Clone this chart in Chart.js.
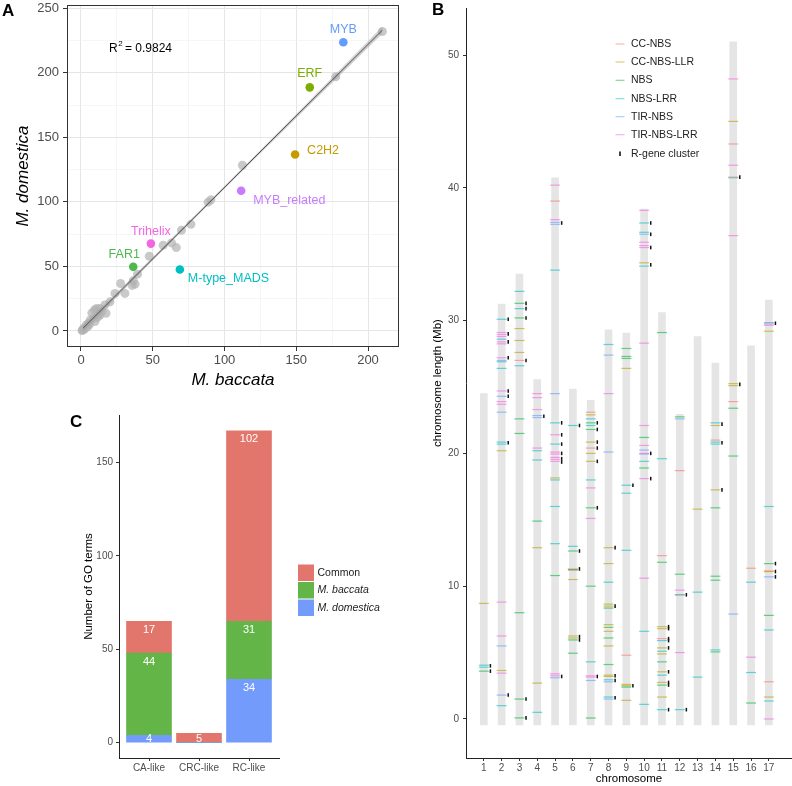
<!DOCTYPE html>
<html>
<head>
<meta charset="utf-8">
<script src="https://cdn.jsdelivr.net/npm/chart.js@4.4.0/dist/chart.umd.min.js"></script>
<style>
  body { margin: 0; background: #fff; width: 792px; height: 786px; position: relative; overflow: hidden; }
  canvas { position: absolute; }
  .tag { position: absolute; font: bold 17px "Liberation Sans", Arial, sans-serif; line-height: 17px; color: #000; }
</style>
</head>
<body>
<canvas id="chartA" width="400" height="392" style="left:0;top:0"></canvas>
<canvas id="chartB" width="392" height="786" style="left:400px;top:0"></canvas>
<canvas id="chartC" width="400" height="394" style="left:0;top:392px"></canvas>
<div class="tag" style="left:2px;top:2px">A</div>
<div class="tag" style="left:432px;top:1px">B</div>
<div class="tag" style="left:70px;top:413px">C</div>

<script>
// ---------- Panel A: TF family sizes ----------
const grayX = [210, 177.5, 112.5, 88.6, 90.5, 76.6, 70, 66.4, 63.1, 57.3, 47.6, 39.4, 36.4, 35.7, 37.7, 27.6, 30.6, 23.7, 20.2, 17.4, 16.7, 13.2, 10.9, 9.3, 12.1, 8.8, 6.5, 5.3, 3.7, 1.9, 0.7, 7.6, 14.6, 4.6, 9.7, 13.2, 2.5, 1.2, 11.5, 5.8];
const grayY = [232, 196.9, 128.4, 99.8, 101.6, 82.6, 78, 64.6, 68.2, 66.4, 57.9, 44, 38.9, 35.3, 36.3, 36.8, 29.1, 29.1, 22.6, 13.7, 20.2, 17.5, 17.5, 16.2, 12.4, 9.9, 8.6, 6, 4.7, 2.1, 0.3, 14, 15.3, 3.3, 7.3, 12.4, 1.5, 0.8, 10.5, 4.9];

const tfNames = ["MYB", "ERF", "C2H2", "MYB_related", "Trihelix", "FAR1", "M-type_MADS"];
const tfX = [182.8, 159.4, 149.2, 111.6, 48.7, 36.4, 68.9];
const tfY = [223.7, 188.7, 136.7, 108.6, 67.7, 49.7, 47.6];
const tfColors = ["#619CFF", "#7CAE00", "#C49A00", "#C77CFF", "#F564E3", "#4DB84D", "#00BFC4"];
// label placement: dx, dy (px), alignment
const tfLabelPos = [[0, -13, "center"], [0, -13.5, "center"], [12, -4, "left"], [12, 10, "left"], [0, -12.5, "center"], [-9, -12.5, "center"], [8, 9, "left"]];

const fitX = [1.5, 210];
const fitY = [2.2, 233];
const bandX = [1.5, 50, 105, 160, 210];
const bandLo = [-0.4, 54.6, 115.5, 175.8, 230.2];
const bandHi = [4.4, 57.2, 117.9, 179.4, 235.8];
const rSquared = "0.9824";

const aTicks = [0, 25, 50, 75, 100, 125, 150, 175, 200, 225, 250];

// ---------- Panel B: R-gene positions ----------
const chrIds = [1, 2, 3, 4, 5, 6, 7, 8, 9, 10, 11, 12, 13, 14, 15, 16, 17];
const chrLengths = [24.5, 31.25, 33.5, 25.55, 40.75, 24.85, 24.0, 29.3, 29.05, 38.4, 30.6, 22.95, 28.8, 26.8, 51.0, 28.1, 31.55];
const chrStart = -0.45;

const typeNames = ["CC-NBS", "CC-NBS-LLR", "NBS", "NBS-LRR", "TIR-NBS", "TIR-NBS-LRR"];
const typeColors = ["#F8766D", "#B79F00", "#00BA38", "#00BFC4", "#619CFF", "#F564E3"];

// [chromosome, Mb]
const ccNbs = [[3, 27.0], [5, 39.0], [6, 11.3], [6, 11.2], [7, 23.1], [7, 20.4], [9, 4.8], [11, 12.3], [11, 6.05], [12, 18.7], [12, 9.35], [14, 21.0], [15, 43.3], [15, 23.9], [16, 11.35], [17, 11.15], [17, 2.8]];
const ccNbsLlr = [[1, 8.7], [2, 20.2], [2, 3.65], [3, 29.4], [3, 28.5], [3, 27.6], [4, 12.9], [4, 2.7], [5, 18.15], [6, 10.5], [6, 6.25], [6, 6.1], [7, 22.9], [7, 20.85], [7, 20.0], [7, 19.4],
  [8, 12.9], [8, 11.7], [8, 8.65], [8, 8.5], [8, 7.1], [8, 6.6], [8, 5.5], [8, 3.3], [8, 3.2], [9, 26.4], [9, 2.6], [9, 2.5], [9, 1.4], [10, 34.35], [11, 6.95], [11, 6.8], [11, 5.35], [11, 4.9], [11, 3.55], [11, 2.75], [11, 1.65],
  [13, 15.8], [14, 22.1], [14, 17.25], [15, 45.0], [15, 40.8], [15, 25.25], [15, 25.1], [17, 29.2], [17, 11.1], [17, 1.65]];
const nbs = [[1, 3.6], [3, 31.3], [3, 30.2], [3, 22.6], [3, 21.5], [3, 8.0], [3, 1.5], [3, 0.08], [4, 14.9], [5, 10.8], [6, 12.65], [6, 11.25], [6, 5.95], [6, 4.95], [7, 22.3], [7, 21.8], [7, 15.9], [7, 10.0], [7, 0.07],
  [8, 8.35], [8, 6.9], [8, 6.1], [8, 4.1], [9, 27.9], [9, 27.3], [9, 27.15], [9, 2.4], [10, 21.2], [10, 18.9], [11, 29.1], [11, 11.8], [11, 4.3], [11, 2.55], [12, 22.75], [12, 10.9], [14, 15.9], [14, 10.75], [14, 10.45], [14, 5.05],
  [15, 23.4], [15, 19.8], [16, 1.2], [17, 11.7], [17, 7.8]];
const nbsLrr = [[1, 4.05], [1, 3.9], [2, 30.1], [2, 28.6], [2, 26.9], [2, 26.4], [2, 20.85], [2, 20.7], [2, 1.0], [3, 32.2], [3, 30.9], [3, 26.6], [4, 20.2], [4, 19.5], [4, 0.5], [5, 33.8], [5, 22.3], [5, 20.7], [5, 18.0], [5, 16.0], [5, 13.2],
  [6, 22.1], [6, 13.0], [7, 22.6], [7, 22.1], [7, 18.0], [7, 4.3], [8, 28.2], [8, 10.3], [8, 2.95], [8, 1.65], [9, 17.6], [9, 17.0], [9, 12.7], [10, 37.35], [10, 36.65], [10, 34.1], [10, 19.4], [10, 6.6], [10, 1.1],
  [11, 19.6], [11, 5.9], [11, 5.1], [11, 3.3], [11, 0.7], [12, 9.35], [12, 0.7], [13, 9.55], [13, 3.15], [14, 22.3], [14, 20.85], [14, 20.7], [14, 5.2], [16, 10.3], [16, 3.5], [17, 29.85], [17, 16.0], [17, 6.7], [17, 1.35]];
const tirNbs = [[2, 27.0], [2, 24.3], [2, 23.1], [2, 5.5], [2, 1.8], [4, 22.85], [4, 22.7], [5, 37.4], [5, 37.25], [5, 24.5], [5, 3.1], [7, 2.9], [8, 27.4], [8, 20.1], [8, 2.8], [8, 1.5], [10, 36.5], [10, 20.25], [10, 19.95],
  [12, 22.6], [15, 40.75], [15, 7.9], [17, 10.7]];
const tirNbsLrr = [[2, 29.1], [2, 28.95], [2, 28.8], [2, 28.4], [2, 28.25], [2, 27.2], [2, 24.7], [2, 23.9], [2, 23.7], [2, 8.8], [2, 6.25], [2, 3.45], [4, 24.5], [4, 24.2], [4, 23.3], [4, 20.4],
  [5, 40.2], [5, 37.6], [5, 21.4], [5, 20.1], [5, 19.95], [5, 19.7], [5, 19.55], [5, 19.4], [5, 3.4], [5, 3.25], [7, 17.4], [7, 15.1], [7, 3.25], [7, 3.15], [8, 24.5],
  [10, 38.3], [10, 35.9], [10, 35.65], [10, 35.5], [10, 28.3], [10, 22.1], [10, 20.6], [10, 20.0], [10, 18.1], [10, 10.6], [12, 9.7], [12, 5.0], [15, 48.2], [15, 41.7], [15, 36.4], [16, 4.65], [17, 29.75], [17, 29.65], [17, 0.0]];
const typeMarks = [ccNbs, ccNbsLlr, nbs, nbsLrr, tirNbs, tirNbsLrr];

const clusters = [[1, 4.0], [1, 3.6], [2, 30.1], [2, 29.0], [2, 28.4], [2, 27.2], [2, 24.7], [2, 24.3], [2, 20.8], [2, 1.8], [3, 31.3], [3, 30.9], [3, 30.2], [3, 27.0], [3, 1.5], [3, 0.08], [4, 22.8],
  [5, 37.35], [5, 22.3], [5, 21.4], [5, 20.7], [5, 20.0], [5, 19.6], [5, 19.35], [5, 3.2], [6, 22.1], [6, 12.65], [6, 11.3], [6, 6.2], [6, 5.95], [7, 22.3], [7, 21.8], [7, 20.85], [7, 20.4], [7, 19.4], [7, 15.9], [7, 3.2],
  [8, 12.9], [8, 8.5], [8, 3.25], [8, 2.9], [8, 1.6], [9, 17.6], [9, 2.5], [10, 37.35], [10, 36.5], [10, 35.5], [10, 34.2], [10, 20.0], [10, 18.1], [11, 6.95], [11, 6.8], [11, 6.05], [11, 5.9], [11, 5.35], [11, 3.55], [11, 2.75], [11, 2.55], [11, 0.7],
  [12, 9.35], [12, 0.7], [14, 22.2], [14, 20.8], [14, 17.25], [15, 40.8], [15, 25.2], [17, 29.8], [17, 11.7], [17, 11.1], [17, 10.7]];

const bTicksY = [0, 10, 20, 30, 40, 50];

// ---------- Panel C: GO terms ----------
const cCats = ["CA-like", "CRC-like", "RC-like"];
const cDomestica = [4, 0, 34];
const cBaccata = [44, 0, 31];
const cCommon = [17, 5, 102];
const cSeries = ["Common", "M. baccata", "M. domestica"];
const cColors = ["#E3766C", "#64B548", "#729BFC"];
const cTicksY = [0, 50, 100, 150];

const FONT = '"Liberation Sans", Arial, sans-serif';

function hexA(hex, a) {
  const n = parseInt(hex.slice(1), 16);
  return `rgba(${(n >> 16) & 255},${(n >> 8) & 255},${n & 255},${a})`;
}

// keep tick label overhang from shrinking the plot area
function noPad(s) {
  s.paddingTop = 0; s.paddingBottom = 0; s.paddingLeft = 0; s.paddingRight = 0;
}

// ---------- Chart A ----------
const aDecor = {
  id: "aDecor",
  afterDraw(chart) {
    const { ctx, chartArea: ca, scales: { x, y } } = chart;
    ctx.save();
    ctx.strokeStyle = "#333";
    ctx.lineWidth = 1;
    ctx.strokeRect(ca.left + 0.5, ca.top + 0.5, ca.width - 1, ca.height - 1);

    ctx.font = `12.5px ${FONT}`;
    ctx.textBaseline = "middle";
    tfNames.forEach((n, i) => {
      const [dx, dy, align] = tfLabelPos[i];
      ctx.fillStyle = tfColors[i];
      ctx.textAlign = align;
      ctx.fillText(n, x.getPixelForValue(tfX[i]) + dx, y.getPixelForValue(tfY[i]) + dy);
    });

    // R^2 annotation
    const rx = x.getPixelForValue(19.5), ry = y.getPixelForValue(218.5);
    ctx.fillStyle = "#000";
    ctx.textAlign = "left";
    ctx.font = `12px ${FONT}`;
    ctx.fillText("R", rx, ry);
    const w = ctx.measureText("R").width;
    ctx.font = `8px ${FONT}`;
    ctx.fillText("2", rx + w + 0.5, ry - 5);
    ctx.font = `12px ${FONT}`;
    ctx.fillText(" = " + rSquared, rx + w + 4, ry);
    ctx.restore();
  }
};

const aGridColor = ctx => (ctx.tick && ctx.tick.value % 50 === 0 ? "#E6E6E6" : "#F0F0F0");
const aGridWidth = ctx => (ctx.tick && ctx.tick.value % 50 === 0 ? 1 : 0.6);
const aTickColor = ctx => (ctx.tick && ctx.tick.value % 50 === 0 ? "#333" : "rgba(0,0,0,0)");

new Chart(document.getElementById("chartA"), {
  type: "scatter",
  data: {
    datasets: [
      {
        data: tfX.map((v, i) => ({ x: v, y: tfY[i] })),
        pointBackgroundColor: tfColors,
        pointBorderWidth: 0,
        pointRadius: 4.3,
        order: 0
      },
      {
        type: "line",
        data: fitX.map((v, i) => ({ x: v, y: fitY[i] })),
        borderColor: "#4D4D4D",
        borderWidth: 1,
        pointRadius: 0,
        order: 1
      },
      {
        type: "line",
        data: bandX.map((v, i) => ({ x: v, y: bandHi[i] })),
        borderWidth: 0,
        pointRadius: 0,
        backgroundColor: "rgba(153,153,153,0.45)",
        fill: 3,
        order: 2
      },
      {
        type: "line",
        data: bandX.map((v, i) => ({ x: v, y: bandLo[i] })),
        borderWidth: 0,
        pointRadius: 0,
        order: 3
      },
      {
        data: grayX.map((v, i) => ({ x: v, y: grayY[i] })),
        pointBackgroundColor: "rgba(178,178,178,0.7)",
        pointBorderWidth: 0,
        pointRadius: 4.5,
        order: 4
      }
    ]
  },
  options: {
    responsive: false,
    animation: false,
    events: [],
    layout: { autoPadding: false, padding: { top: 5, right: 1, left: 13, bottom: 0 } },
    plugins: { legend: { display: false }, tooltip: { enabled: false } },
    scales: {
      x: {
        type: "linear",
        min: -9.75,
        max: 221.6,
        afterBuildTicks: s => { s.ticks = aTicks.filter(v => v <= 221.6).map(v => ({ value: v })); },
        afterFit: s => { s.height = 45; noPad(s); },
        ticks: { font: { family: FONT, size: 13 }, color: "#4D4D4D", padding: 2, callback: v => (v % 50 === 0 ? v : "") },
        grid: { color: aGridColor, lineWidth: aGridWidth, tickColor: aTickColor, tickLength: 4 },
        border: { display: false },
        title: { display: true, text: "M. baccata", color: "#000", font: { family: FONT, size: 17, style: "italic" }, padding: { top: 0, bottom: 2 } }
      },
      y: {
        type: "linear",
        min: -12.4,
        max: 252.5,
        afterBuildTicks: s => { s.ticks = aTicks.map(v => ({ value: v })); },
        afterFit: s => { s.width = 54; noPad(s); },
        ticks: { font: { family: FONT, size: 13 }, color: "#4D4D4D", padding: 4, callback: v => (v % 50 === 0 ? v : "") },
        grid: { color: aGridColor, lineWidth: aGridWidth, tickColor: aTickColor, tickLength: 4 },
        border: { display: false },
        title: { display: true, text: "M. domestica", color: "#000", font: { family: FONT, size: 17, style: "italic" }, padding: { top: 0, bottom: 0 } }
      }
    }
  },
  plugins: [aDecor]
});

// ---------- Chart B ----------
const bLegend = {
  id: "bLegend",
  afterDraw(chart) {
    const { ctx } = chart;
    const rows = [44, 62, 80.3, 98.7, 116.7, 134.7];
    ctx.save();
    ctx.font = `10.5px ${FONT}`;
    ctx.textBaseline = "middle";
    ctx.textAlign = "left";
    typeNames.forEach((n, i) => {
      ctx.strokeStyle = hexA(typeColors[i], 0.55);
      ctx.lineWidth = 1.1;
      ctx.beginPath();
      ctx.moveTo(215.5, rows[i]);
      ctx.lineTo(224.5, rows[i]);
      ctx.stroke();
      ctx.fillStyle = "#222";
      ctx.fillText(n, 231, rows[i]);
    });
    ctx.strokeStyle = "#111";
    ctx.lineWidth = 1.6;
    ctx.beginPath();
    ctx.moveTo(220, 151.5);
    ctx.lineTo(220, 156);
    ctx.stroke();
    ctx.fillStyle = "#222";
    ctx.fillText("R-gene cluster", 231, 153.7);
    ctx.restore();
  }
};

new Chart(document.getElementById("chartB"), {
  type: "bar",
  data: {
    datasets: [
      {
        type: "bar",
        data: chrIds.map((c, i) => ({ x: c, y: [chrStart, chrLengths[i]] })),
        backgroundColor: "#E5E5E5",
        borderWidth: 0,
        barThickness: 7,
        order: 10
      },
      ...typeMarks.map((set, i) => ({
        type: "scatter",
        data: set.map(([c, p]) => ({ x: c, y: p })),
        pointStyle: "line",
        pointRadius: 5,
        pointBorderWidth: 1.2,
        pointBorderColor: hexA(typeColors[i], 0.6),
        order: 7 - i
      })),
      {
        type: "scatter",
        data: clusters.map(([c, p]) => ({ x: c + 0.37, y: p })),
        pointStyle: "line",
        pointRotation: 90,
        pointRadius: 1.8,
        pointBorderWidth: 1.5,
        pointBorderColor: "#111",
        order: 0
      }
    ]
  },
  options: {
    responsive: false,
    animation: false,
    events: [],
    layout: { autoPadding: false, padding: { top: 8, right: 0, left: 31, bottom: 0 } },
    plugins: { legend: { display: false }, tooltip: { enabled: false } },
    scales: {
      x: {
        type: "linear",
        offset: false,
        min: 0,
        max: 18.3,
        afterBuildTicks: s => { s.ticks = chrIds.map(v => ({ value: v })); },
        afterFit: s => { s.height = 28; noPad(s); },
        ticks: { font: { family: FONT, size: 10 }, color: "#4D4D4D", padding: 1 },
        grid: { offset: false, drawOnChartArea: false, tickLength: 3, tickColor: "#333" },
        border: { color: "#222", width: 1 },
        title: { display: true, text: "chromosome", color: "#000", font: { family: FONT, size: 11.5 }, padding: { top: 0, bottom: 0 } }
      },
      y: {
        type: "linear",
        min: -2.94,
        max: 53.54,
        afterBuildTicks: s => { s.ticks = bTicksY.map(v => ({ value: v })); },
        afterFit: s => { s.width = 35; noPad(s); },
        ticks: { font: { family: FONT, size: 10 }, color: "#4D4D4D", padding: 4 },
        grid: { drawOnChartArea: false, tickLength: 3, tickColor: "#333" },
        border: { color: "#222", width: 1 },
        title: { display: true, text: "chromosome length (Mb)", color: "#000", font: { family: FONT, size: 11.5 }, padding: { top: 0, bottom: 0 } }
      }
    }
  },
  plugins: [bLegend]
});

// ---------- Chart C ----------
const cDecor = {
  id: "cDecor",
  afterDatasetsDraw(chart) {
    const { ctx, scales: { y } } = chart;
    const base = y.getPixelForValue(0);
    ctx.save();
    ctx.font = `11px ${FONT}`;
    ctx.fillStyle = "#fff";
    ctx.textAlign = "center";
    ctx.textBaseline = "middle";
    chart.data.datasets.forEach((ds, di) => {
      const meta = chart.getDatasetMeta(di);
      meta.data.forEach((el, j) => {
        const v = ds.data[j].y;
        if (!v) return;
        ctx.fillText(String(v), el.x, Math.min(el.y + 8.5, base - 4));
      });
    });
    ctx.restore();
  },
  afterDraw(chart) {
    const { ctx } = chart;
    const tops = [172.5, 190, 207.5];
    ctx.save();
    ctx.textBaseline = "middle";
    ctx.textAlign = "left";
    cSeries.forEach((name, k) => {
      ctx.fillStyle = cColors[k];
      ctx.fillRect(298, tops[k], 16, 16.5);
      ctx.fillStyle = "#222";
      ctx.font = (k === 0 ? "" : "italic ") + `10.5px ${FONT}`;
      ctx.fillText(name, 317.5, tops[k] + 8.5);
    });
    ctx.restore();
  }
};

new Chart(document.getElementById("chartC"), {
  type: "bar",
  data: {
    datasets: [
      { label: cSeries[2], data: cDomestica.map((v, i) => ({ x: i + 1, y: v })), backgroundColor: cColors[2] },
      { label: cSeries[1], data: cBaccata.map((v, i) => ({ x: i + 1, y: v })), backgroundColor: cColors[1] },
      { label: cSeries[0], data: cCommon.map((v, i) => ({ x: i + 1, y: v })), backgroundColor: cColors[0] }
    ].map(d => Object.assign(d, { barThickness: 45, borderWidth: 0 }))
  },
  options: {
    responsive: false,
    animation: false,
    events: [],
    layout: { autoPadding: false, padding: { top: 23, right: 121, left: 82, bottom: 0 } },
    plugins: { legend: { display: false }, tooltip: { enabled: false } },
    scales: {
      x: {
        type: "linear",
        stacked: true,
        offset: false,
        min: 0.4,
        max: 3.6,
        afterBuildTicks: s => { s.ticks = cCats.map((c, i) => ({ value: i + 1 })); },
        afterFit: s => { s.height = 28; noPad(s); },
        ticks: { font: { family: FONT, size: 10 }, color: "#4D4D4D", padding: 1, callback: v => cCats[v - 1] },
        grid: { offset: false, drawOnChartArea: false, tickLength: 3, tickColor: "#333" },
        border: { color: "#222", width: 1 }
      },
      y: {
        type: "linear",
        stacked: true,
        min: -8.2,
        max: 175.5,
        afterBuildTicks: s => { s.ticks = cTicksY.map(v => ({ value: v })); },
        afterFit: s => { s.width = 37; noPad(s); },
        ticks: { font: { family: FONT, size: 10 }, color: "#4D4D4D", padding: 3 },
        grid: { drawOnChartArea: false, tickLength: 3, tickColor: "#333" },
        border: { color: "#222", width: 1 },
        title: { display: true, text: "Number of GO terms", color: "#000", font: { family: FONT, size: 11.5 }, padding: { top: 0, bottom: 0 } }
      }
    }
  },
  plugins: [cDecor]
});
</script>
</body>
</html>
